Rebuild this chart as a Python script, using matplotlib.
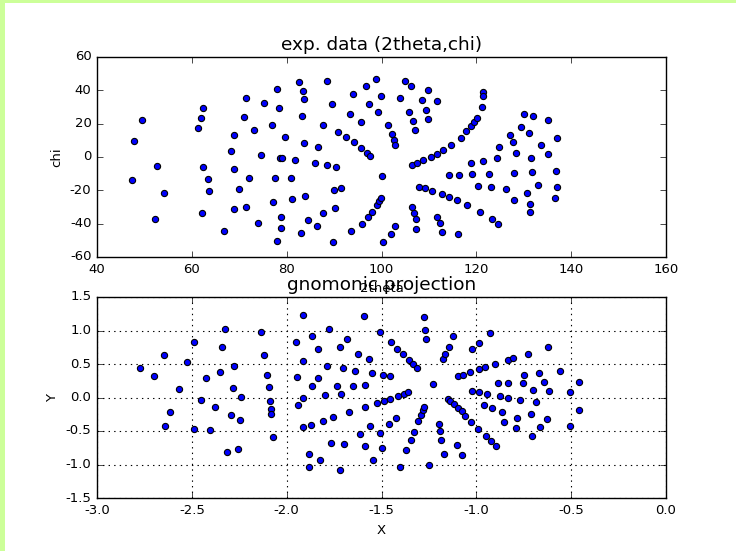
import matplotlib
matplotlib.use("Agg")
import matplotlib.pyplot as plt
from matplotlib.patches import Rectangle

# measured peak positions (2theta, chi) in degrees
two_theta = [
    47.7, 49.5, 47.3, 52.6, 54.2, 52.2, 61.2, 62.0, 62.4, 62.4, 63.4, 63.6, 62.1, 66.8,
    68.8, 68.2, 68.8, 70.0, 68.8, 71.4, 72.1, 71.1, 71.4, 73.2, 74.5, 75.2, 73.9, 77.0,
    77.9, 78.4, 79.7, 78.6, 79.0, 77.5, 77.1, 78.7, 78.7, 77.9,
    81.0, 81.1, 83.0, 82.6, 83.4, 83.7, 83.2, 83.7, 81.8, 83.9, 84.4, 86.6, 85.9, 87.7,
    87.7, 86.5, 88.5, 89.6, 88.6, 90.4, 90.0, 91.5, 90.2, 89.8, 90.8, 92.6, 93.3, 93.9,
    94.1, 95.7, 95.7, 93.6, 95.8, 96.7, 97.3, 96.9, 97.6, 97.1, 98.1, 98.8, 99.3, 99.8,
    99.0, 99.4, 99.8, 100.0, 100.4, 101.4, 102.3, 102.7, 102.8, 102.8, 101.9, 103.8,
    104.9, 106.2, 105.9, 106.7, 107.0, 106.5, 107.5, 108.8, 110.5, 111.7, 113.0, 114.7,
    116.7, 117.9, 118.9, 119.6, 120.2, 109.9, 108.5, 111.6, 109.4, 109.8, 108.0, 109.1,
    110.7, 112.8, 114.2, 115.9, 118.1, 106.4, 106.8, 107.2, 107.2, 111.6, 112.3, 112.8,
    116.1, 114.2, 116.3, 118.9, 119.0, 120.3, 120.8,
    121.5, 121.5, 121.3, 121.5, 123.0, 122.6, 123.2, 124.6, 124.4, 124.8, 126.2, 127.0,
    127.7, 128.4, 128.0, 127.9, 129.4, 130.0, 131.2, 131.5, 131.8, 130.7, 131.3, 131.3,
    132.0, 133.6, 133.1, 135.2, 135.2, 137.0, 136.8, 137.1, 136.6,
]
chi = [
    9.8, 22.4, -13.6, -5.2, -21.8, -37.4, 17.2, 23.2, 29.6, -6.2, -13.2, -20.4, -33.6, -44.4,
    13.2, 3.6, -7.0, -19.2, -31.0, -29.8, -12.8, 23.8, 35.4, 16.4, 1.0, 32.4, -39.8, 19.4,
    40.6, 29.6, 11.8, -0.6, -0.6, -12.8, -27.0, -36.2, -42.8, -50.6,
    -12.6, -25.0, -45.6, 44.8, 39.6, 34.6, 24.8, 8.2, -2.0, -23.4, -37.6, 5.8, -3.8, 19.2,
    -33.6, -41.6, 45.4, 32.0, -5.0, -6.0, -19.6, -18.4, -30.8, -51.0, 15.2, 11.8, 26.0, 37.8,
    9.2, 21.2, 5.2, -44.6, -40.0, 42.6, 31.8, 2.6, 0.4, -36.2, -33.2, 46.6, 26.8, 36.4,
    -29.0, -26.6, -24.6, -11.6, -51.2, 19.0, 13.8, 10.2, 7.2, -41.6, -46.0, 35.6,
    45.8, 42.8, 27.2, 21.4, 16.4, -4.8, -3.8, -1.8, 0.2, 2.0, 4.2, 7.2,
    11.6, 15.6, 18.4, 21.2, 23.4, 40.2, 34.4, 33.6, 28.0, 22.8, -17.8, -18.8,
    -20.2, -22.2, -23.8, -26.0, -28.8, -30.2, -33.4, -37.4, -43.0, -36.2, -39.8, -45.0,
    -46.0, -10.8, -10.8, -3.6, -10.4, -17.1, -33.1,
    38.8, 36.8, 30.0, -2.2, -18.0, -10.2, -37.4, -40.0, -0.4, 5.8, -19.2, 13.4,
    9.2, 2.6, -9.6, -25.6, 18.0, 25.6, 14.4, -0.8, -9.0, -21.4, -28.4, -33.0,
    24.4, 7.4, -17.0, 22.2, 1.6, 11.4, -8.2, -18.2, -24.6,
]

# same peaks on the gnomonic plane
gnom_x = [
    -2.775, -2.702, -2.649, -2.570, -2.614, -2.642, -2.526, -2.491, -2.451, -2.491,
    -2.426, -2.402, -2.377, -2.353, -2.339, -2.325, -2.316, -2.295, -2.281, -2.277,
    -2.254, -2.246, -2.239, -2.135, -2.121, -2.104, -2.095, -2.086, -2.082, -2.081, -2.070,
    -1.916, -1.953, -1.866, -1.916, -1.947, -1.912, -1.942, -1.916, -1.872, -1.868,
    -1.880, -1.884, -1.833, -1.837, -1.824, -1.810, -1.798, -1.789, -1.777, -1.768,
    -1.754, -1.735, -1.719, -1.716, -1.717, -1.701, -1.698, -1.684, -1.670, -1.649,
    -1.638, -1.626, -1.615, -1.591, -1.585, -1.585, -1.585, -1.564, -1.561, -1.550,
    -1.547, -1.525, -1.510, -1.508, -1.494, -1.496, -1.487, -1.455, -1.455, -1.459,
    -1.450, -1.422, -1.417, -1.411, -1.404, -1.388, -1.380, -1.371, -1.359, -1.355,
    -1.346, -1.332, -1.330, -1.315, -1.308, -1.293, -1.283, -1.275, -1.278, -1.272,
    -1.265, -1.250, -1.228, -1.197, -1.192, -1.185, -1.172, -1.174, -1.163, -1.146,
    -1.151, -1.137, -1.123, -1.118, -1.102, -1.095, -1.097, -1.077, -1.076, -1.069,
    -1.058, -1.035, -1.030, -1.023, -1.023,
    -0.984, -0.988, -0.988, -0.989, -0.928, -0.953, -0.903, -0.942, -0.958, -0.916,
    -0.951, -0.924, -0.896, -0.886, -0.877, -0.863, -0.852, -0.835, -0.831, -0.833,
    -0.805, -0.784, -0.791, -0.770, -0.756, -0.749, -0.729, -0.714, -0.699, -0.687,
    -0.707, -0.670, -0.664, -0.643, -0.627, -0.622, -0.617, -0.561, -0.506, -0.508,
    -0.459, -0.457,
]
gnom_y = [
    0.445, 0.315, 0.635, 0.130, -0.215, -0.420, 0.530, 0.825, -0.040, -0.465,
    0.295, -0.490, -0.145, 0.380, 0.750, 1.025, -0.815, -0.265, 0.145, 0.465,
    -0.765, -0.335, 0.005, 0.985, 0.640, 0.335, 0.155, -0.055, -0.175, -0.250, -0.585,
    1.230, 0.830, 0.925, 0.545, 0.310, -0.005, -0.115, -0.440, -0.405, 0.165,
    -0.850, -1.040, 0.725, 0.295, -0.930, -0.345, 0.030, 0.475, 1.015, -0.675,
    -0.290, 0.175, -1.075, 0.050, 0.750, 0.435, -0.695, 0.875, -0.215, 0.175,
    0.400, 0.650, -0.540, 1.220, 0.180, -0.140, -0.725, 0.575, -0.430, 0.360,
    -0.940, -0.085, -0.530, 0.975, 0.330, -0.755, -0.045, 0.320, -0.015, -0.390,
    0.825, -0.305, 0.725, 0.025, -1.030, 0.650, 0.050, -0.790, 0.075, 0.555,
    -0.630, 0.495, -0.510, 0.445, -0.355, -0.255, -0.190, -0.135, 1.205, 1.005,
    0.875, -1.005, 0.200, -0.395, -0.495, -0.640, -0.845, 0.580, 0.655, 0.755,
    -0.015, -0.045, 0.915, -0.100, -0.705, 0.325, -0.160, -0.865, -0.205, 0.340,
    -0.280, 0.375, -0.360, 0.725, 0.100,
    0.820, 0.420, 0.075, -0.475, 0.965, 0.450, 0.500, 0.055, -0.110, -0.155,
    -0.580, -0.650, -0.725, 0.215, 0.025, -0.215, -0.360, 0.560, 0.215, 0.000,
    0.590, -0.305, -0.450, -0.030, 0.220, 0.335, 0.655, -0.250, 0.115, -0.070,
    -0.575, 0.360, -0.440, 0.225, -0.320, 0.750, 0.100, 0.390, 0.080, -0.420,
    0.235, -0.185,
]

plt.style.use("classic")
plt.rcParams["axes.unicode_minus"] = False
plt.rcParams["font.family"] = "DejaVu Sans"
plt.rcParams["font.size"] = 9.5

fig = plt.figure(figsize=(7.36, 5.51), dpi=100, facecolor="white")

# light green frame along the top and left edges
border = "#ccff99"
fig.add_artist(Rectangle((0, 1 - 3 / 551), 1, 3 / 551, transform=fig.transFigure,
                         facecolor=border, edgecolor="none"))
fig.add_artist(Rectangle((0, 0), 5 / 736, 1, transform=fig.transFigure,
                         facecolor=border, edgecolor="none"))

ax1 = fig.add_axes([97 / 736, 1 - 257 / 551, 569 / 736, 200 / 551])
ax1.scatter(two_theta, chi, s=20, c="b", edgecolors="k", linewidths=0.8, zorder=3)
ax1.set_xlim(40, 160)
ax1.set_ylim(-60, 60)
ax1.set_title("exp. data (2theta,chi)", fontsize=13.3)
ax1.set_xlabel("2theta", fontsize=9.5)
ax1.set_ylabel("chi", fontsize=9.5)

ax2 = fig.add_axes([97 / 736, 1 - 498 / 551, 569 / 736, 201 / 551])
ax2.scatter(gnom_x, gnom_y, s=20, c="b", edgecolors="k", linewidths=0.8, zorder=3)
ax2.set_xlim(-3.0, 0.0)
ax2.set_ylim(-1.5, 1.5)
ax2.grid(True, color="k", linestyle=":", linewidth=0.8)
ax2.set_title("gnomonic projection", fontsize=13.3)
ax2.set_xlabel("X", fontsize=9.5)
ax2.set_ylabel("Y", fontsize=9.5)

for ax in (ax1, ax2):
    ax.tick_params(labelsize=9.5)

fig.savefig("out.png", dpi=100, facecolor="white")
